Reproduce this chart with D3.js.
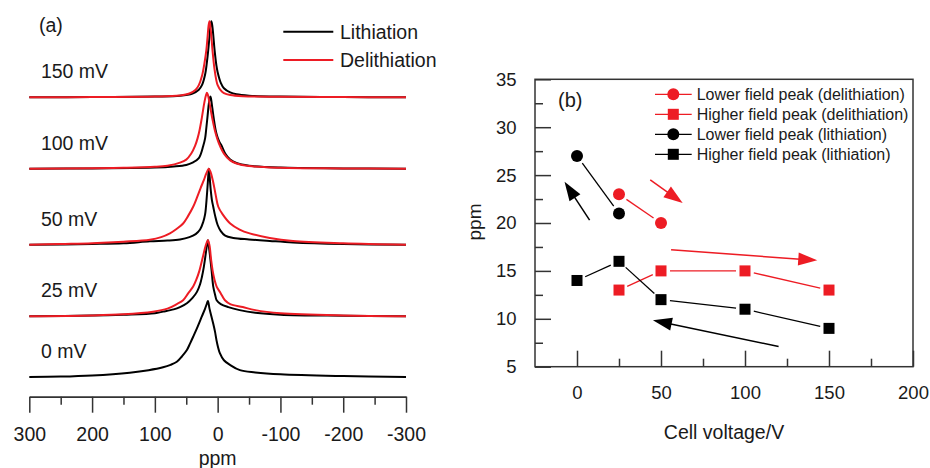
<!DOCTYPE html>
<html>
<head>
<meta charset="utf-8">
<script src="https://d3js.org/d3.v7.min.js"></script>
<style>
    body { margin: 0; background: #fff; }
    svg { display: block; font-family: "Liberation Sans", Arial, sans-serif; }
</style>
</head>
<body>
<script>
    // ---- panel (a): spectra, [ppm, normalised intensity]
    const ppmTicks = [300, 200, 100, 0, -100, -200, -300];
    const ppmMinorTicks = [250, 150, 50, -50, -150, -250];
    const voltageLabels = ['0 mV', '25 mV', '50 mV', '100 mV', '150 mV'];
    const stackOffsets = [0, 0.80, 1.74, 2.74, 3.68];

    const lith0 = [[300,0],[250,0.005],[200,0.02],[140,0.057],[110,0.09],[87,0.128],[75,0.16],[65,0.2],[57,0.27],[49,0.355],[44,0.44],[39,0.53],[32,0.66],[25.5,0.79],[20,0.9],[17,0.97],[15.5,1],[13,0.9],[10,0.8],[7,0.7],[4.3,0.6],[1,0.45],[-3.7,0.31],[-10,0.22],[-19.6,0.16],[-35.5,0.09],[-60,0.06],[-100,0.035],[-200,0.012],[-300,0]];
    const lith25 = [[300,0],[200,0.008],[150,0.02],[100,0.04],[87,0.06],[70,0.09],[60,0.12],[49,0.17],[40,0.24],[33,0.32],[28,0.42],[25,0.52],[22,0.65],[19,0.82],[17,0.94],[15.5,1],[14,0.92],[12,0.78],[9.6,0.6],[7,0.39],[4,0.28],[1.6,0.21],[-5,0.16],[-17,0.12],[-35,0.08],[-60,0.045],[-100,0.02],[-200,0.006],[-300,0]];
    const lith50 = [[300,0],[200,0.01],[150,0.02],[108,0.045],[80,0.055],[60,0.07],[45,0.1],[35,0.14],[28,0.2],[23,0.3],[20,0.4],[18.6,0.5],[16.5,0.72],[15,0.9],[14,1],[13,0.92],[11,0.72],[9,0.58],[7,0.5],[4,0.38],[0,0.26],[-5,0.18],[-12,0.12],[-25,0.09],[-50,0.07],[-83,0.05],[-120,0.03],[-200,0.01],[-300,0]];
    const lith100 = [[300,0],[200,0.005],[100,0.015],[70,0.03],[50,0.05],[40,0.08],[30,0.14],[23,0.3],[20,0.4],[18.5,0.5],[16,0.7],[14,0.86],[12.5,0.93],[11.5,0.95],[10.5,0.92],[8.5,0.8],[6,0.65],[3.5,0.52],[1.5,0.45],[0,0.41],[-3,0.35],[-6.5,0.3],[-12,0.2],[-20,0.12],[-30,0.075],[-50,0.04],[-100,0.015],[-200,0.005],[-300,0]];
    const lith150 = [[300,0],[200,0.004],[100,0.01],[60,0.02],[40,0.05],[30,0.1],[25,0.16],[20,0.3],[17,0.47],[15,0.62],[13,0.8],[11.5,0.94],[10,1],[8.5,0.94],[7,0.82],[5,0.63],[2,0.42],[0,0.33],[-5,0.19],[-10,0.12],[-20,0.065],[-30,0.04],[-50,0.022],[-100,0.01],[-200,0.004],[-300,0]];

    const delith25 = [[300,0],[200,0.01],[150,0.025],[103,0.06],[80,0.1],[65,0.16],[55,0.21],[47,0.3],[39,0.39],[34,0.48],[29,0.6],[23,0.8],[19,0.93],[15.5,1],[13,0.93],[10.5,0.75],[8,0.6],[5,0.48],[1.6,0.39],[-5,0.3],[-11.6,0.21],[-20,0.16],[-40,0.12],[-60,0.08],[-100,0.04],[-200,0.01],[-300,0]];
    const delith50 = [[300,0],[250,0.01],[200,0.02],[150,0.04],[108,0.066],[90,0.1],[76,0.15],[65,0.21],[55,0.28],[47,0.38],[39,0.5],[33,0.62],[27,0.75],[22,0.85],[18,0.94],[14,1],[11,0.95],[7,0.82],[3,0.65],[-1,0.5],[-8,0.4],[-20,0.28],[-35,0.2],[-51,0.15],[-83,0.09],[-120,0.05],[-200,0.02],[-300,0]];
    const delith100 = [[300,0],[200,0.006],[150,0.012],[100,0.025],[80,0.04],[60,0.08],[50,0.12],[42,0.2],[36,0.3],[32,0.4],[29,0.5],[25,0.68],[21,0.88],[18.5,0.97],[17,1],[15.5,0.97],[12,0.82],[8,0.64],[4.3,0.5],[0,0.38],[-3.7,0.3],[-10,0.2],[-20,0.11],[-30,0.07],[-50,0.035],[-100,0.012],[-200,0.004],[-300,0]];
    const delith150 = [[300,0],[200,0.004],[100,0.01],[60,0.025],[45,0.05],[35,0.1],[30,0.16],[25,0.28],[21,0.45],[18,0.62],[16,0.8],[14.5,0.94],[13,1],[11.5,0.93],[10,0.8],[8,0.6],[5,0.37],[2,0.22],[0,0.16],[-5,0.09],[-10,0.055],[-20,0.03],[-40,0.015],[-100,0.008],[-200,0.003],[-300,0]];

    const lithiationSpectra = [lith0, lith25, lith50, lith100, lith150];
    const delithiationSpectra = [null, delith25, delith50, delith100, delith150];

    // ---- panel (b): peak shift vs cell voltage
    const voltageTicks = [0, 50, 100, 150, 200];
    const voltageMinorTicks = [25, 75, 125, 175];
    const shiftTicks = [5, 10, 15, 20, 25, 30, 35];
    const shiftMinorTicks = [7.5, 12.5, 17.5, 22.5, 27.5, 32.5];

    const lowerDelith = [[25, 23], [50, 20]];
    const higherDelith = [[25, 13], [50, 15], [100, 15], [150, 13]];
    const lowerLith = [[0, 27], [25, 21]];
    const higherLith = [[0, 14], [25, 16], [50, 12], [100, 11], [150, 9]];
    const seriesNames = [
        'Lower field peak (delithiation)',
        'Higher field peak (delithiation)',
        'Lower field peak (lithiation)',
        'Higher field peak (lithiation)'
    ];

    // arrows drawn on the plot, in data units [voltage, ppm]
    const arrowFrom = [[7.5, 20.3], [43.6, 24.5], [56, 17.2], [120, 7.1]];
    const arrowTo = [[-7.4, 24.3], [62.9, 22.1], [143, 16.1], [45.2, 9.86]];
    const arrowKind = ['lith', 'delith', 'delith', 'lith'];

    const red = '#ed1c24';
    const ink = '#1a1a1a';

    const measurements = {
        width: 930,
        height: 468
    };

    let svg = '';

    window.onload = function() {
        svg = d3.select('body')
            .append('svg')
            .attr('width', measurements.width)
            .attr('height', measurements.height);

        makeSpectra();
        makePeakPlot();
    }

    function makeSpectra() {
        let g = svg.append('g');

        let xA = d3.scaleLinear().domain([300, -300]).range([29.3, 406]);
        let yA = d3.scaleLinear().domain([0, 1]).range([377, 301]);

        // axis with ticks hanging below the line
        let axisY = 396.7;
        let major = d3.axisBottom(xA)
            .tickValues(ppmTicks)
            .tickSize(16)
            .tickSizeOuter(0)
            .tickPadding(14)
            .tickFormat(d => String(d));
        let minor = d3.axisBottom(xA)
            .tickValues(ppmMinorTicks)
            .tickSize(8)
            .tickSizeOuter(0)
            .tickFormat('');

        g.append('g').attr('transform', `translate(0,${axisY})`).call(minor);
        let ax = g.append('g').attr('transform', `translate(0,${axisY})`).call(major);
        g.selectAll('.domain, .tick line').attr('stroke', '#333').attr('stroke-width', 1.5);
        ax.selectAll('text')
            .attr('fill', ink)
            .style('font-size', '19.5px');

        g.append('text')
            .attr('x', xA(0))
            .attr('y', 458)
            .attr('text-anchor', 'middle')
            .attr('dominant-baseline', 'central')
            .attr('fill', ink)
            .style('font-size', '19.5px')
            .text('ppm');

        let line = d3.line()
            .x(d => xA(d[0]))
            .y(d => d.y)
            .curve(d3.curveCatmullRom.alpha(0.5));

        lithiationSpectra.forEach(function(spec, i) {
            let off = stackOffsets[i];
            g.append('path')
                .attr('fill', 'none')
                .attr('stroke', '#000')
                .attr('stroke-width', 2)
                .attr('stroke-linejoin', 'round')
                .attr('d', line(spec.map(p => Object.assign([p[0], p[1]], { y: yA(p[1] + off) }))));

            let dspec = delithiationSpectra[i];
            if (dspec) {
                g.append('path')
                    .attr('fill', 'none')
                    .attr('stroke', red)
                    .attr('stroke-width', 2)
                    .attr('stroke-linejoin', 'round')
                    .attr('d', line(dspec.map(p => Object.assign([p[0], p[1]], { y: yA(p[1] + off) }))));
            }

            g.append('text')
                .attr('x', xA(281.5))
                .attr('y', yA(off + 0.34))
                .attr('dominant-baseline', 'central')
                .attr('fill', ink)
                .style('font-size', '19.5px')
                .text(voltageLabels[i]);
        });

        g.append('text')
            .attr('x', 39)
            .attr('y', 25)
            .attr('dominant-baseline', 'central')
            .attr('fill', ink)
            .style('font-size', '19.5px')
            .text('(a)');

        // legend
        let legend = [['Lithiation', '#000', 31.7], ['Delithiation', red, 60]];
        legend.forEach(function(d) {
            g.append('line')
                .attr('x1', 283.3).attr('x2', 333.3)
                .attr('y1', d[2]).attr('y2', d[2])
                .attr('stroke', d[1])
                .attr('stroke-width', 2);
            g.append('text')
                .attr('x', 340)
                .attr('y', d[2])
                .attr('dominant-baseline', 'central')
                .attr('fill', ink)
                .style('font-size', '19.5px')
                .text(d[0]);
        });
    }

    function makePeakPlot() {
        let g = svg.append('g');

        let xB = d3.scaleLinear().domain([-25, 200]).range([535, 913]);
        let yB = d3.scaleLinear().domain([5, 35]).range([366.7, 79.3]);

        // frame
        g.append('rect')
            .attr('x', xB(-25))
            .attr('y', yB(35))
            .attr('width', xB(200) - xB(-25))
            .attr('height', yB(5) - yB(35))
            .attr('fill', 'none')
            .attr('stroke', '#333')
            .attr('stroke-width', 1.5);

        // inward ticks
        let xMajor = d3.axisBottom(xB).tickValues(voltageTicks).tickSize(-16).tickSizeOuter(0).tickPadding(19.5);
        let xMinor = d3.axisBottom(xB).tickValues(voltageMinorTicks).tickSize(-8).tickSizeOuter(0).tickFormat('');
        let yMajor = d3.axisLeft(yB).tickValues(shiftTicks).tickSize(-16).tickSizeOuter(0).tickPadding(18.5);
        let yMinor = d3.axisLeft(yB).tickValues(shiftMinorTicks).tickSize(-8).tickSizeOuter(0).tickFormat('');

        g.append('g').attr('transform', `translate(0,${yB(5)})`).call(xMinor);
        let xa = g.append('g').attr('transform', `translate(0,${yB(5)})`).call(xMajor);
        g.append('g').attr('transform', `translate(${xB(-25)},0)`).call(yMinor);
        let ya = g.append('g').attr('transform', `translate(${xB(-25)},0)`).call(yMajor);
        g.selectAll('.domain').remove();
        g.selectAll('.tick line').attr('stroke', '#333').attr('stroke-width', 1.5);
        xa.selectAll('text').attr('fill', ink).style('font-size', '18.5px');
        ya.selectAll('text').attr('fill', ink).style('font-size', '18.5px');

        g.append('text')
            .attr('x', (xB(-25) + xB(200)) / 2)
            .attr('y', 431.7)
            .attr('text-anchor', 'middle')
            .attr('dominant-baseline', 'central')
            .attr('fill', ink)
            .style('font-size', '19.5px')
            .text('Cell voltage/V');

        g.append('text')
            .attr('transform', 'translate(474,222) rotate(-90)')
            .attr('text-anchor', 'middle')
            .attr('dominant-baseline', 'central')
            .attr('fill', ink)
            .style('font-size', '19px')
            .text('ppm');

        g.append('text')
            .attr('x', xB(-25) + 23)
            .attr('y', 100)
            .attr('dominant-baseline', 'central')
            .attr('fill', ink)
            .style('font-size', '20px')
            .text('(b)');

        let series = [
            { name: seriesNames[0], pts: lowerDelith, color: red, shape: 'circle' },
            { name: seriesNames[1], pts: higherDelith, color: red, shape: 'square' },
            { name: seriesNames[2], pts: lowerLith, color: '#000', shape: 'circle' },
            { name: seriesNames[3], pts: higherLith, color: '#000', shape: 'square' }
        ];

        function marker(sel, shape, color, cx, cy) {
            if (shape === 'circle') {
                sel.append('circle').attr('cx', cx).attr('cy', cy).attr('r', 6).attr('fill', color);
            } else {
                sel.append('rect').attr('x', cx - 5.5).attr('y', cy - 5.5)
                    .attr('width', 11).attr('height', 11).attr('fill', color);
            }
        }

        // connecting lines stop short of the markers
        let gap = 9;
        series.forEach(function(s) {
            for (let i = 0; i < s.pts.length - 1; i++) {
                let x1 = xB(s.pts[i][0]), y1 = yB(s.pts[i][1]);
                let x2 = xB(s.pts[i + 1][0]), y2 = yB(s.pts[i + 1][1]);
                let len = Math.hypot(x2 - x1, y2 - y1);
                let ux = (x2 - x1) / len, uy = (y2 - y1) / len;
                g.append('line')
                    .attr('x1', x1 + ux * gap).attr('y1', y1 + uy * gap)
                    .attr('x2', x2 - ux * gap).attr('y2', y2 - uy * gap)
                    .attr('stroke', s.color)
                    .attr('stroke-width', 1.3);
            }
        });
        series.forEach(function(s) {
            s.pts.forEach(p => marker(g, s.shape, s.color, xB(p[0]), yB(p[1])));
        });

        // arrows
        arrowFrom.forEach(function(f, i) {
            let color = arrowKind[i] === 'lith' ? '#000' : red;
            let x1 = xB(f[0]), y1 = yB(f[1]);
            let x2 = xB(arrowTo[i][0]), y2 = yB(arrowTo[i][1]);
            let len = Math.hypot(x2 - x1, y2 - y1);
            let ux = (x2 - x1) / len, uy = (y2 - y1) / len;
            let headLen = 19, headHalf = 6.5;
            let bx = x2 - ux * headLen, by = y2 - uy * headLen;
            g.append('line')
                .attr('x1', x1).attr('y1', y1)
                .attr('x2', bx + ux * 2).attr('y2', by + uy * 2)
                .attr('stroke', color)
                .attr('stroke-width', 1.5);
            g.append('path')
                .attr('d', `M${x2},${y2}L${bx - uy * headHalf},${by + ux * headHalf}L${bx + uy * headHalf},${by - ux * headHalf}Z`)
                .attr('fill', color);
        });

        // legend
        let rowY = [94.3, 114.3, 134.3, 154.3];
        series.forEach(function(s, i) {
            g.append('line')
                .attr('x1', 655).attr('x2', 691.7)
                .attr('y1', rowY[i]).attr('y2', rowY[i])
                .attr('stroke', s.color)
                .attr('stroke-width', 1.3);
            marker(g, s.shape, s.color, 673.3, rowY[i]);
            g.append('text')
                .attr('x', 696.7)
                .attr('y', rowY[i])
                .attr('dominant-baseline', 'central')
                .attr('fill', ink)
                .style('font-size', '16px')
                .text(s.name);
        });
    }
</script>
</body>
</html>
